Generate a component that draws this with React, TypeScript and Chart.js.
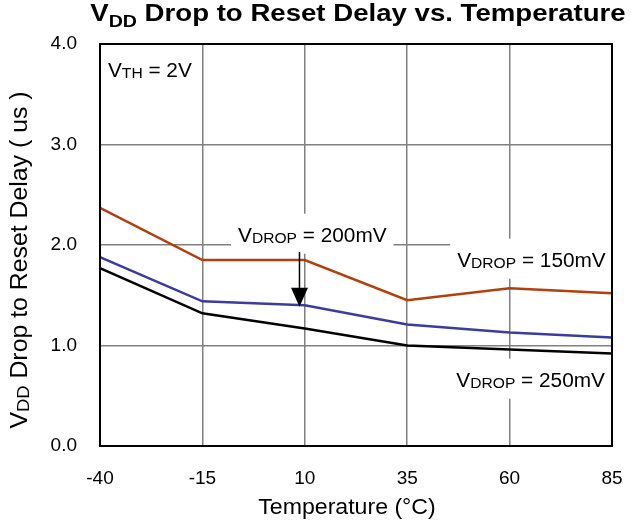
import React, { useEffect, useRef } from "react";
import { Chart, registerables } from "chart.js";

Chart.register(...registerables);

const temps = [-40, -15, 10, 35, 60, 85];
const delay150 = [2.37, 1.85, 1.85, 1.45, 1.57, 1.52];
const delay200 = [1.88, 1.44, 1.40, 1.21, 1.13, 1.08];
const delay250 = [1.77, 1.32, 1.17, 1.00, 0.96, 0.92];
const xTicks = [-40, -15, 10, 35, 60, 85];
const yTicks = [0, 1, 2, 3, 4];

const FONT = "'Liberation Sans', Arial, Helvetica, sans-serif";

type Part = { t: string; size: number; bold?: boolean; dy?: number };

// annotation labels: anchor in data units (left x, baseline y)
const labels: { x: number; y: number; parts: Part[] }[] = [
  { x: -38.05, y: 3.67, parts: [{ t: "V", size: 20 }, { t: "TH", size: 15, dy: 1 }, { t: " = 2V", size: 20 }] },
  { x: -6.3, y: 2.033, parts: [{ t: "V", size: 20 }, { t: "DROP", size: 15, dy: 1 }, { t: " = 200mV", size: 20 }] },
  { x: 47.2, y: 1.784, parts: [{ t: "V", size: 20 }, { t: "DROP", size: 15, dy: 1 }, { t: " = 150mV", size: 20 }] },
  { x: 47.0, y: 0.59, parts: [{ t: "V", size: 20 }, { t: "DROP", size: 15, dy: 1 }, { t: " = 250mV", size: 20 }] },
];
const arrowX = 8.7;
const arrowFrom = 1.93;
const arrowTo = 1.386;

function fontOf(p: Part) {
  return `${p.bold ? "bold " : ""}${p.size}px ${FONT}`;
}
function measure(ctx: CanvasRenderingContext2D, parts: Part[], sx = 1) {
  let w = 0;
  for (const p of parts) {
    ctx.font = fontOf(p);
    w += ctx.measureText(p.t).width;
  }
  return w * sx;
}
function drawParts(ctx: CanvasRenderingContext2D, parts: Part[], x: number, y: number, sx = 1) {
  ctx.save();
  ctx.translate(x, y);
  ctx.scale(sx, 1);
  ctx.textBaseline = "alphabetic";
  ctx.textAlign = "left";
  let cx = 0;
  for (const p of parts) {
    ctx.font = fontOf(p);
    ctx.fillText(p.t, cx, p.dy || 0);
    cx += ctx.measureText(p.t).width;
  }
  ctx.restore();
}

const titleParts: Part[] = [
  { t: "V", size: 24, bold: true },
  { t: "DD", size: 17, bold: true, dy: 6 },
  { t: " Drop to Reset Delay vs. Temperature", size: 24, bold: true },
];
const yTitleParts: Part[] = [
  { t: "V", size: 23 },
  { t: "DD", size: 17, dy: 2 },
  { t: " Drop to Reset Delay ( us )", size: 23 },
];
const xTitleParts: Part[] = [{ t: "Temperature (°C)", size: 22 }];

const LBL_SX = 1.04;

const customPlugin = {
  id: "custom",
  beforeDatasetsDraw(chart: any) {
    const ctx = chart.ctx as CanvasRenderingContext2D;
    const xs = chart.scales.x;
    const ys = chart.scales.y;
    ctx.save();
    ctx.fillStyle = "#ffffff";
    for (const l of labels) {
      const px = xs.getPixelForValue(l.x);
      const py = ys.getPixelForValue(l.y);
      const w = measure(ctx, l.parts, LBL_SX);
      const left = px - 7;
      const right = Math.min(px + w + 7, chart.chartArea.right - 1);
      ctx.fillRect(left, py - 28, right - left, 40);
    }
    ctx.restore();
  },
  afterDatasetsDraw(chart: any) {
    const ctx = chart.ctx as CanvasRenderingContext2D;
    const xs = chart.scales.x;
    const ys = chart.scales.y;
    const a = chart.chartArea;
    ctx.save();
    ctx.fillStyle = "#000";
    for (const l of labels) {
      drawParts(ctx, l.parts, xs.getPixelForValue(l.x), ys.getPixelForValue(l.y), LBL_SX);
    }
    // arrow
    const ax = xs.getPixelForValue(arrowX);
    const y0 = ys.getPixelForValue(arrowFrom);
    const y1 = ys.getPixelForValue(arrowTo);
    ctx.strokeStyle = "#000";
    ctx.lineWidth = 1.5;
    ctx.beginPath();
    ctx.moveTo(ax, y0);
    ctx.lineTo(ax, y1 - 15);
    ctx.stroke();
    ctx.beginPath();
    ctx.moveTo(ax - 8.5, y1 - 19);
    ctx.lineTo(ax + 8.5, y1 - 19);
    ctx.lineTo(ax, y1);
    ctx.closePath();
    ctx.fill();
    // border
    ctx.strokeStyle = "#000";
    ctx.lineWidth = 2;
    ctx.strokeRect(a.left, a.top, a.right - a.left, a.bottom - a.top);
    ctx.restore();
  },
  afterDraw(chart: any) {
    const ctx = chart.ctx as CanvasRenderingContext2D;
    ctx.save();
    ctx.fillStyle = "#000";
    // title
    const tw = measure(ctx, titleParts, 1.15);
    drawParts(ctx, titleParts, 358 - tw / 2, 21, 1.15);
    // x title
    const xw = measure(ctx, xTitleParts, 1.05);
    drawParts(ctx, xTitleParts, 347 - xw / 2, 514, 1.05);
    // y title
    const yw = measure(ctx, yTitleParts, 1.08);
    ctx.translate(27, 260);
    ctx.rotate(-Math.PI / 2);
    drawParts(ctx, yTitleParts, -yw / 2, 0, 1.08);
    ctx.restore();
  },
};

export default function App() {
  const ref = useRef<HTMLCanvasElement | null>(null);
  useEffect(() => {
    document.body.style.margin = "0";
    const canvas = ref.current!;
    const mk = (data: number[], color: string) => ({
      data: temps.map((t, i) => ({ x: t, y: data[i] })),
      borderColor: color,
      backgroundColor: color,
      borderWidth: 2.5,
      pointRadius: 0,
      tension: 0,
      fill: false,
    });
    const chart = new Chart(canvas, {
      type: "line",
      data: {
        datasets: [
          { label: "VDROP = 150mV", ...mk(delay150, "#B0400E") },
          { label: "VDROP = 200mV", ...mk(delay200, "#3C3C9E") },
          { label: "VDROP = 250mV", ...mk(delay250, "#000000") },
        ],
      },
      options: {
        animation: false,
        responsive: false,
        maintainAspectRatio: false,
        layout: { padding: { left: 0, right: 19, top: 44, bottom: 0 } },
        plugins: { legend: { display: false }, tooltip: { enabled: false }, title: { display: false } },
        scales: {
          x: {
            type: "linear",
            min: -40,
            max: 85,
            afterBuildTicks: (s: any) => {
              s.ticks = xTicks.map((v) => ({ value: v }));
            },
            afterFit: (s: any) => {
              s.height = 79;
              s.paddingLeft = 0;
              s.paddingRight = 0;
            },
            grid: { color: "#808080", lineWidth: 1.5, drawTicks: false },
            border: { display: false },
            ticks: {
              padding: 21,
              color: "#000",
              font: { family: FONT, size: 19 },
              callback: (v: any) => String(v),
            },
          },
          y: {
            type: "linear",
            min: 0,
            max: 4,
            afterBuildTicks: (s: any) => {
              s.ticks = yTicks.map((v) => ({ value: v }));
            },
            afterFit: (s: any) => {
              s.width = 100;
              s.paddingTop = 0;
              s.paddingBottom = 0;
            },
            grid: { color: "#808080", lineWidth: 1.5, drawTicks: false },
            border: { display: false },
            ticks: {
              padding: 23,
              color: "#000",
              font: { family: FONT, size: 19 },
              callback: (v: any) => Number(v).toFixed(1),
            },
          },
        },
      },
      plugins: [customPlugin],
    } as any);
    return () => chart.destroy();
  }, []);
  return (
    <div style={{ position: "absolute", left: 0, top: 0, width: 631, height: 525 }}>
      <canvas ref={ref} width={631} height={525} />
    </div>
  );
}
